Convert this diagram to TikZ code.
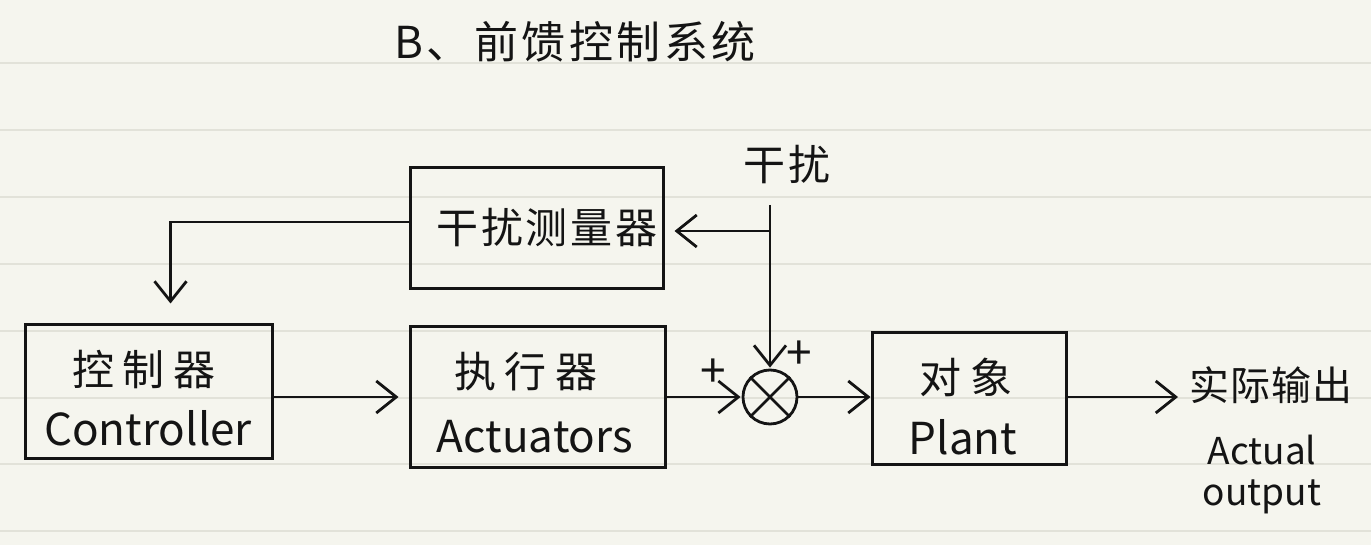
\documentclass[tikz,border=0pt]{standalone}
\usepackage{fontspec}
\setmainfont{Noto Sans CJK SC}
\usetikzlibrary{arrows.meta}
\definecolor{paper}{HTML}{F5F5EE}
\definecolor{rulecol}{HTML}{E2E2D9}
\definecolor{ink}{HTML}{141414}
\tikzset{
  blk/.style={draw=ink, line width=3pt, inner sep=0pt},
  wire/.style={draw=ink, line width=2.8pt},
  arr/.style={wire, -{Straight Barb[length=20pt,width=32pt,line width=2.8pt]}},
  zh/.style={text=ink, inner sep=0pt, font=\fontsize{42}{46}\selectfont\addfontfeature{LetterSpace=20}},
  en/.style={text=ink, inner sep=0pt, font=\fontsize{44}{48}\selectfont},
  sm/.style={text=ink, inner sep=0pt, font=\fontsize{37}{40}\selectfont},
  plus/.style={text=ink, inner sep=0pt, font=\fontsize{46}{48}\selectfont},
}
\begin{document}
\begin{tikzpicture}[x=1pt,y=-1pt]
% paper
\fill[paper] (0,0) rectangle (1371,545);
\useasboundingbox (0,0) rectangle (1371,545);
\foreach \yy in {63,130,197,264,331,398,464,531}
  \draw[rulecol, line width=1.5pt] (0,\yy) -- (1371,\yy);

% title
\node[zh, font=\fontsize{44}{48}\selectfont\addfontfeature{LetterSpace=8}] (title) at (575,42) {B、前馈控制系统};

% blocks
\node[blk, minimum width=253pt, minimum height=121pt] (meas) at (536.5,228.5) {};
\node[blk, minimum width=247pt, minimum height=133pt] (ctrl) at (148.5,391.5) {};
\node[blk, minimum width=255pt, minimum height=140pt] (act) at (537.5,397) {};
\node[blk, minimum width=194pt, minimum height=131pt] (plant) at (969,398.5) {};
\node[draw=ink, line width=2.8pt, circle, minimum size=54pt, inner sep=0pt] (sum) at (770,397) {};
\draw[wire] (sum.45) -- (sum.225) (sum.135) -- (sum.315);

% texts
\node[zh, font=\fontsize{42}{46}\selectfont\addfontfeature{LetterSpace=6}] (measzh) at (547,228) {干扰测量器};
\node[zh] (ctrlzh) at (144,370) {控制器};
\node[en] (ctrlen) at (148,428) {Controller};
\node[zh] (actzh) at (526,372) {执行器};
\node[en] (acten) at (535,437) {Actuators};
\node[zh] (plantzh) at (966,377) {对象};
\node[en] (planten) at (963,437) {Plant};
\node[zh, font=\fontsize{42}{46}\selectfont\addfontfeature{LetterSpace=8}] (dist) at (787,165) {干扰};
\node[zh, font=\fontsize{40}{44}\selectfont\addfontfeature{LetterSpace=2}] (outzh) at (1271,385) {实际输出};
\node[sm] (outen1) at (1262,450) {Actual};
\node[sm] (outen2) at (1262,497) {output};
\node[plus] (p1) at (713,373) {+};
\node[plus] (p2) at (799,355) {+};

% connectors
\coordinate (dtop) at (770,205);
\coordinate (br) at (770,231);
\coordinate (out) at (1178,397);
\draw[arr, shorten >=1pt] (dtop) -- (sum.north);
\draw[arr, shorten >=10pt] (br) -- (meas.east |- br);
\draw[arr, shorten >=20pt] ([yshift=6.5pt]meas.west) -| ([xshift=22pt]ctrl.north);
\draw[arr, shorten >=10pt] (ctrl.east |- act.west) -- (act.west);
\draw[arr, shorten >=1pt] (act.east) -- (sum.west);
\draw[arr] (sum.east) -- (plant.west |- sum.east);
\draw[arr] (plant.east |- out) -- (out);
\end{tikzpicture}
\end{document}
